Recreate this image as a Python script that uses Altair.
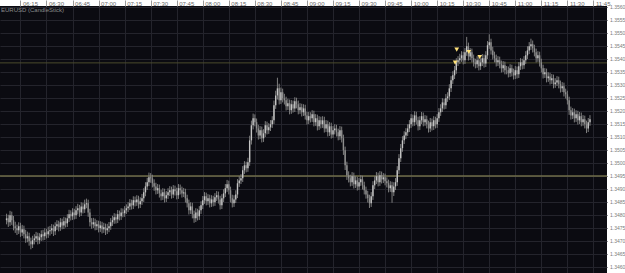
import altair as alt
import pandas as pd

title_text = "EURUSD (CandleStick)"
first_minute = 6 * 60 + 7   # first candle at 06:07, one candle per minute

closes = [
    1.34787, 1.34772, 1.34799, 1.34780, 1.34757,
    1.34749, 1.34741, 1.34757, 1.34733, 1.34745,
    1.34726, 1.34710, 1.34718, 1.34699, 1.34687, 1.34703,
    1.34710, 1.34718, 1.34703, 1.34714, 1.34726, 1.34718, 1.34733, 1.34726, 1.34737,
    1.34741, 1.34749, 1.34737, 1.34757, 1.34764, 1.34753, 1.34772, 1.34760, 1.34776,
    1.34768, 1.34787, 1.34803, 1.34795, 1.34810, 1.34799, 1.34818, 1.34826, 1.34810, 1.34833, 1.34822,
    1.34841, 1.34845, 1.34810, 1.34772,
    1.34764, 1.34772, 1.34757, 1.34764, 1.34749, 1.34760, 1.34745, 1.34753, 1.34741, 1.34749,
    1.34757, 1.34772, 1.34780, 1.34791, 1.34783, 1.34803, 1.34795, 1.34810, 1.34807, 1.34818, 1.34826,
    1.34833, 1.34845, 1.34837, 1.34857, 1.34849, 1.34860, 1.34841, 1.34853, 1.34864,
    1.34887, 1.34910, 1.34926, 1.34945, 1.34941,
    1.34922, 1.34910, 1.34895, 1.34903, 1.34883, 1.34872, 1.34887, 1.34864, 1.34876,
    1.34887, 1.34895, 1.34879, 1.34899, 1.34891, 1.34876, 1.34903, 1.34895, 1.34883, 1.34887,
    1.34864, 1.34845, 1.34818, 1.34833, 1.34803, 1.34787, 1.34810, 1.34795, 1.34818, 1.34837,
    1.34857, 1.34872, 1.34853, 1.34864, 1.34845, 1.34860, 1.34849,
    1.34868, 1.34876, 1.34860, 1.34837, 1.34864, 1.34883,
    1.34903, 1.34918, 1.34895, 1.34864, 1.34845, 1.34860, 1.34879,
    1.34922, 1.34933, 1.34941,
    1.34972, 1.34991, 1.34980, 1.35003,
    1.35087, 1.35145, 1.35172, 1.35157,
    1.35133, 1.35106, 1.35126, 1.35095, 1.35114, 1.35145, 1.35126,
    1.35137, 1.35149, 1.35164,
    1.35222, 1.35260, 1.35287, 1.35241, 1.35272, 1.35249,
    1.35241, 1.35218, 1.35230, 1.35203, 1.35226, 1.35210,
    1.35237, 1.35226, 1.35203, 1.35214,
    1.35195, 1.35210, 1.35183, 1.35164, 1.35180,
    1.35172, 1.35187, 1.35157, 1.35172, 1.35141, 1.35164,
    1.35149, 1.35164, 1.35133, 1.35149, 1.35118, 1.35141, 1.35110, 1.35126,
    1.35133, 1.35118, 1.35103, 1.35126, 1.35095,
    1.35049, 1.34991, 1.34953,
    1.34941, 1.34926, 1.34949, 1.34918, 1.34933, 1.34910, 1.34926, 1.34937, 1.34914,
    1.34895, 1.34879, 1.34864, 1.34845, 1.34872,
    1.34914, 1.34933, 1.34949, 1.34926, 1.34953, 1.34937, 1.34945, 1.34930,
    1.34922, 1.34903, 1.34914, 1.34887, 1.34910, 1.34926,
    1.34972, 1.35018, 1.35057, 1.35087, 1.35106, 1.35118, 1.35133,
    1.35149, 1.35172, 1.35157, 1.35183, 1.35164, 1.35141, 1.35164, 1.35180, 1.35157, 1.35168,
    1.35149, 1.35133, 1.35157, 1.35141, 1.35164, 1.35149, 1.35172,
    1.35195, 1.35210, 1.35233, 1.35222, 1.35249, 1.35256,
    1.35287, 1.35318, 1.35337, 1.35357,
    1.35387, 1.35395,
    1.35403, 1.35414, 1.35395, 1.35426, 1.35449, 1.35410,
    1.35426, 1.35403, 1.35387,
    1.35380, 1.35395, 1.35372, 1.35387, 1.35403, 1.35383,
    1.35414, 1.35453, 1.35464, 1.35433, 1.35414,
    1.35403, 1.35387, 1.35395,
    1.35380, 1.35364, 1.35376, 1.35357,
    1.35357, 1.35345, 1.35364, 1.35349, 1.35337, 1.35357, 1.35341,
    1.35372, 1.35387, 1.35376, 1.35395,
    1.35414, 1.35433, 1.35449, 1.35457, 1.35441, 1.35426,
    1.35403, 1.35414, 1.35387,
    1.35364, 1.35341, 1.35349, 1.35326,
    1.35333, 1.35318, 1.35326, 1.35303, 1.35310, 1.35318,
    1.35303, 1.35287, 1.35295, 1.35272, 1.35264,
    1.35241, 1.35203,
    1.35183, 1.35195, 1.35172, 1.35187, 1.35164, 1.35180, 1.35157, 1.35168,
    1.35149, 1.35133, 1.35157, 1.35168,
]

opens = [
    1.34780, 1.34787, 1.34772, 1.34799, 1.34780,
    1.34757, 1.34749, 1.34741, 1.34757, 1.34733,
    1.34745, 1.34726, 1.34710, 1.34718, 1.34699, 1.34687,
    1.34703, 1.34710, 1.34718, 1.34703, 1.34714, 1.34726, 1.34718, 1.34733, 1.34726,
    1.34737, 1.34741, 1.34749, 1.34737, 1.34757, 1.34764, 1.34753, 1.34772, 1.34760,
    1.34776, 1.34768, 1.34787, 1.34803, 1.34795, 1.34810, 1.34799, 1.34818, 1.34826, 1.34810, 1.34833,
    1.34822, 1.34841, 1.34845, 1.34810,
    1.34772, 1.34764, 1.34772, 1.34757, 1.34764, 1.34749, 1.34760, 1.34745, 1.34753, 1.34741,
    1.34749, 1.34757, 1.34772, 1.34780, 1.34791, 1.34783, 1.34803, 1.34795, 1.34810, 1.34807, 1.34818,
    1.34826, 1.34833, 1.34845, 1.34837, 1.34857, 1.34849, 1.34860, 1.34841, 1.34853,
    1.34864, 1.34887, 1.34910, 1.34926, 1.34945,
    1.34941, 1.34922, 1.34910, 1.34895, 1.34903, 1.34883, 1.34872, 1.34887, 1.34864,
    1.34876, 1.34887, 1.34895, 1.34879, 1.34899, 1.34891, 1.34876, 1.34903, 1.34895, 1.34883,
    1.34887, 1.34864, 1.34845, 1.34818, 1.34833, 1.34803, 1.34787, 1.34810, 1.34795, 1.34818,
    1.34837, 1.34857, 1.34872, 1.34853, 1.34864, 1.34845, 1.34860,
    1.34849, 1.34868, 1.34876, 1.34860, 1.34837, 1.34864,
    1.34883, 1.34903, 1.34918, 1.34895, 1.34864, 1.34845, 1.34860,
    1.34879, 1.34922, 1.34933,
    1.34941, 1.34972, 1.34991, 1.34980,
    1.35003, 1.35087, 1.35145, 1.35172,
    1.35157, 1.35133, 1.35106, 1.35126, 1.35095, 1.35114, 1.35145,
    1.35126, 1.35137, 1.35149,
    1.35164, 1.35222, 1.35260, 1.35287, 1.35241, 1.35272,
    1.35249, 1.35241, 1.35218, 1.35230, 1.35203, 1.35226,
    1.35210, 1.35237, 1.35226, 1.35203,
    1.35214, 1.35195, 1.35210, 1.35183, 1.35164,
    1.35180, 1.35172, 1.35187, 1.35157, 1.35172, 1.35141,
    1.35164, 1.35149, 1.35164, 1.35133, 1.35149, 1.35118, 1.35141, 1.35110,
    1.35126, 1.35133, 1.35118, 1.35103, 1.35126,
    1.35095, 1.35049, 1.34991,
    1.34953, 1.34941, 1.34926, 1.34949, 1.34918, 1.34933, 1.34910, 1.34926, 1.34937,
    1.34914, 1.34895, 1.34879, 1.34864, 1.34845,
    1.34872, 1.34914, 1.34933, 1.34949, 1.34926, 1.34953, 1.34937, 1.34945,
    1.34930, 1.34922, 1.34903, 1.34914, 1.34887, 1.34910,
    1.34926, 1.34972, 1.35018, 1.35057, 1.35087, 1.35106, 1.35118,
    1.35133, 1.35149, 1.35172, 1.35157, 1.35183, 1.35164, 1.35141, 1.35164, 1.35180, 1.35157,
    1.35168, 1.35149, 1.35133, 1.35157, 1.35141, 1.35164, 1.35149,
    1.35172, 1.35195, 1.35210, 1.35233, 1.35222, 1.35249,
    1.35256, 1.35287, 1.35318, 1.35337,
    1.35357, 1.35387,
    1.35395, 1.35403, 1.35414, 1.35395, 1.35426, 1.35449,
    1.35410, 1.35426, 1.35403,
    1.35387, 1.35380, 1.35395, 1.35372, 1.35387, 1.35403,
    1.35383, 1.35414, 1.35453, 1.35464, 1.35433,
    1.35414, 1.35403, 1.35387,
    1.35395, 1.35380, 1.35364, 1.35376,
    1.35357, 1.35357, 1.35345, 1.35364, 1.35349, 1.35337, 1.35357,
    1.35341, 1.35372, 1.35387, 1.35376,
    1.35395, 1.35414, 1.35433, 1.35449, 1.35457, 1.35441,
    1.35426, 1.35403, 1.35414,
    1.35387, 1.35364, 1.35341, 1.35349,
    1.35326, 1.35333, 1.35318, 1.35326, 1.35303, 1.35310,
    1.35318, 1.35303, 1.35287, 1.35295, 1.35272,
    1.35264, 1.35241,
    1.35203, 1.35183, 1.35195, 1.35172, 1.35187, 1.35164, 1.35180, 1.35157,
    1.35168, 1.35149, 1.35133, 1.35157,
]

highs = [
    1.34805, 1.34801, 1.34816, 1.34813, 1.34796,
    1.34774, 1.34763, 1.34772, 1.34770, 1.34762,
    1.34759, 1.34743, 1.34736, 1.34732, 1.34713, 1.34720,
    1.34726, 1.34735, 1.34732, 1.34730, 1.34741, 1.34743, 1.34749, 1.34747, 1.34755,
    1.34758, 1.34765, 1.34763, 1.34772, 1.34780, 1.34778, 1.34788, 1.34786, 1.34793,
    1.34790, 1.34803, 1.34820, 1.34818, 1.34826, 1.34824, 1.34834, 1.34843, 1.34839, 1.34849, 1.34847,
    1.34859, 1.34863, 1.34859, 1.34824,
    1.34788, 1.34789, 1.34786, 1.34780, 1.34778, 1.34776, 1.34774, 1.34770, 1.34767, 1.34766,
    1.34773, 1.34788, 1.34797, 1.34807, 1.34805, 1.34819, 1.34817, 1.34826, 1.34825, 1.34834, 1.34841,
    1.34849, 1.34861, 1.34859, 1.34872, 1.34871, 1.34876, 1.34874, 1.34868, 1.34881,
    1.34903, 1.34926, 1.34943, 1.34963, 1.34961,
    1.34955, 1.34937, 1.34924, 1.34919, 1.34917, 1.34897, 1.34903, 1.34901, 1.34892,
    1.34903, 1.34911, 1.34909, 1.34915, 1.34913, 1.34905, 1.34919, 1.34917, 1.34909, 1.34904,
    1.34901, 1.34878, 1.34859, 1.34849, 1.34847, 1.34817, 1.34826, 1.34824, 1.34834, 1.34853,
    1.34873, 1.34888, 1.34886, 1.34880, 1.34878, 1.34876, 1.34874,
    1.34884, 1.34892, 1.34890, 1.34874, 1.34880, 1.34899,
    1.34919, 1.34935, 1.34932, 1.34909, 1.34878, 1.34876, 1.34895,
    1.34938, 1.34949, 1.34957,
    1.34988, 1.35007, 1.35005, 1.35020,
    1.35105, 1.35163, 1.35190, 1.35187,
    1.35171, 1.35147, 1.35142, 1.35140, 1.35130, 1.35161, 1.35159,
    1.35153, 1.35165, 1.35180,
    1.35240, 1.35278, 1.35328, 1.35305, 1.35290, 1.35286,
    1.35266, 1.35255, 1.35247, 1.35244, 1.35242, 1.35240,
    1.35253, 1.35251, 1.35240, 1.35230,
    1.35228, 1.35226, 1.35224, 1.35197, 1.35196,
    1.35195, 1.35203, 1.35201, 1.35188, 1.35186, 1.35180,
    1.35178, 1.35180, 1.35178, 1.35165, 1.35163, 1.35157, 1.35155, 1.35142,
    1.35149, 1.35147, 1.35132, 1.35142, 1.35140,
    1.35109, 1.35063, 1.35005,
    1.34968, 1.34955, 1.34965, 1.34963, 1.34949, 1.34947, 1.34942, 1.34953, 1.34951,
    1.34928, 1.34909, 1.34893, 1.34878, 1.34888,
    1.34930, 1.34949, 1.34965, 1.34963, 1.34969, 1.34967, 1.34961, 1.34959,
    1.34945, 1.34936, 1.34930, 1.34928, 1.34926, 1.34942,
    1.34988, 1.35034, 1.35073, 1.35103, 1.35122, 1.35134, 1.35149,
    1.35165, 1.35188, 1.35186, 1.35199, 1.35197, 1.35178, 1.35180, 1.35196, 1.35194, 1.35184,
    1.35182, 1.35163, 1.35173, 1.35171, 1.35180, 1.35178, 1.35188,
    1.35211, 1.35226, 1.35249, 1.35247, 1.35265, 1.35272,
    1.35303, 1.35334, 1.35353, 1.35373,
    1.35403, 1.35411,
    1.35420, 1.35430, 1.35428, 1.35442, 1.35485, 1.35463,
    1.35442, 1.35440, 1.35417,
    1.35401, 1.35411, 1.35409, 1.35403, 1.35419, 1.35417,
    1.35430, 1.35469, 1.35495, 1.35478, 1.35447,
    1.35428, 1.35417, 1.35411,
    1.35409, 1.35394, 1.35392, 1.35390,
    1.35373, 1.35371, 1.35380, 1.35378, 1.35363, 1.35373, 1.35371,
    1.35388, 1.35403, 1.35401, 1.35411,
    1.35430, 1.35449, 1.35465, 1.35478, 1.35471, 1.35455,
    1.35440, 1.35430, 1.35428,
    1.35401, 1.35378, 1.35365, 1.35363,
    1.35349, 1.35347, 1.35342, 1.35340, 1.35326, 1.35334,
    1.35332, 1.35317, 1.35311, 1.35309, 1.35286,
    1.35278, 1.35255,
    1.35217, 1.35211, 1.35209, 1.35203, 1.35201, 1.35196, 1.35194, 1.35184,
    1.35182, 1.35163, 1.35173, 1.35184,
]

lows = [
    1.34764, 1.34754, 1.34758, 1.34762, 1.34741,
    1.34731, 1.34723, 1.34727, 1.34716, 1.34719,
    1.34710, 1.34693, 1.34695, 1.34682, 1.34668, 1.34673,
    1.34687, 1.34696, 1.34687, 1.34689, 1.34700, 1.34702, 1.34704, 1.34710, 1.34712,
    1.34721, 1.34727, 1.34719, 1.34723, 1.34742, 1.34737, 1.34739, 1.34745, 1.34746,
    1.34752, 1.34754, 1.34773, 1.34779, 1.34781, 1.34783, 1.34785, 1.34802, 1.34793, 1.34796, 1.34806,
    1.34808, 1.34826, 1.34793, 1.34756,
    1.34747, 1.34750, 1.34741, 1.34742, 1.34733, 1.34735, 1.34729, 1.34731, 1.34723, 1.34727,
    1.34734, 1.34743, 1.34758, 1.34766, 1.34767, 1.34769, 1.34779, 1.34781, 1.34791, 1.34793, 1.34804,
    1.34811, 1.34819, 1.34821, 1.34823, 1.34833, 1.34835, 1.34825, 1.34827, 1.34839,
    1.34850, 1.34872, 1.34896, 1.34911, 1.34924,
    1.34906, 1.34893, 1.34879, 1.34881, 1.34867, 1.34856, 1.34858, 1.34848, 1.34850,
    1.34862, 1.34873, 1.34863, 1.34865, 1.34875, 1.34860, 1.34862, 1.34879, 1.34867, 1.34869,
    1.34848, 1.34829, 1.34802, 1.34804, 1.34787, 1.34770, 1.34773, 1.34779, 1.34781, 1.34804,
    1.34823, 1.34843, 1.34837, 1.34839, 1.34829, 1.34831, 1.34833,
    1.34835, 1.34854, 1.34844, 1.34821, 1.34823, 1.34850,
    1.34869, 1.34889, 1.34879, 1.34848, 1.34829, 1.34831, 1.34846,
    1.34865, 1.34908, 1.34919,
    1.34927, 1.34958, 1.34964, 1.34966,
    1.34989, 1.35071, 1.35129, 1.35141,
    1.35117, 1.35090, 1.35092, 1.35079, 1.35081, 1.35100, 1.35110,
    1.35112, 1.35123, 1.35135,
    1.35150, 1.35208, 1.35244, 1.35225, 1.35227, 1.35233,
    1.35225, 1.35202, 1.35204, 1.35187, 1.35189, 1.35194,
    1.35196, 1.35210, 1.35187, 1.35189,
    1.35179, 1.35181, 1.35167, 1.35148, 1.35150,
    1.35156, 1.35158, 1.35141, 1.35143, 1.35125, 1.35127,
    1.35133, 1.35135, 1.35117, 1.35119, 1.35102, 1.35104, 1.35094, 1.35096,
    1.35110, 1.35102, 1.35087, 1.35089, 1.35079,
    1.35031, 1.34973, 1.34935,
    1.34925, 1.34910, 1.34912, 1.34902, 1.34904, 1.34894, 1.34896, 1.34912, 1.34898,
    1.34879, 1.34863, 1.34848, 1.34827, 1.34831,
    1.34858, 1.34900, 1.34919, 1.34910, 1.34912, 1.34921, 1.34923, 1.34914,
    1.34906, 1.34887, 1.34889, 1.34847, 1.34873, 1.34896,
    1.34912, 1.34958, 1.35004, 1.35043, 1.35073, 1.35092, 1.35104,
    1.35119, 1.35135, 1.35141, 1.35143, 1.35148, 1.35125, 1.35127, 1.35150, 1.35141, 1.35143,
    1.35133, 1.35117, 1.35119, 1.35125, 1.35127, 1.35133, 1.35135,
    1.35158, 1.35181, 1.35196, 1.35206, 1.35208, 1.35235,
    1.35242, 1.35273, 1.35304, 1.35323,
    1.35343, 1.35373,
    1.35381, 1.35389, 1.35379, 1.35381, 1.35412, 1.35394,
    1.35396, 1.35387, 1.35371,
    1.35364, 1.35366, 1.35356, 1.35358, 1.35373, 1.35367,
    1.35369, 1.35400, 1.35439, 1.35417, 1.35398,
    1.35387, 1.35371, 1.35373,
    1.35364, 1.35348, 1.35350, 1.35341,
    1.35341, 1.35329, 1.35331, 1.35333, 1.35321, 1.35323, 1.35325,
    1.35327, 1.35358, 1.35360, 1.35362,
    1.35381, 1.35400, 1.35419, 1.35435, 1.35425, 1.35410,
    1.35387, 1.35389, 1.35371,
    1.35348, 1.35325, 1.35327, 1.35310,
    1.35312, 1.35302, 1.35304, 1.35287, 1.35289, 1.35296,
    1.35287, 1.35271, 1.35273, 1.35256, 1.35248,
    1.35225, 1.35185,
    1.35167, 1.35169, 1.35156, 1.35158, 1.35148, 1.35150, 1.35141, 1.35143,
    1.35133, 1.35115, 1.35119, 1.35143,
]

# trade markers: minute of day (10:26:15, 10:25:20, 10:33:15, 10:39:30) and price
marker_minutes = [626.25, 625.33, 633.25, 639.5]
marker_prices = [1.35436, 1.35386, 1.35427, 1.35408]

level_prices = [1.35385, 1.34950]
level_colors = ["#4a4a2c", "#6f6d48"]
level_widths = [1, 1.6]

x_ticks = [375, 390, 405, 420, 435, 450, 465, 480, 495, 510, 525, 540, 555, 570, 585, 600,
           615, 630, 645, 660, 675, 690, 705]
y_ticks = [1.3460, 1.3465, 1.3470, 1.3475, 1.3480, 1.3485, 1.3490, 1.3495, 1.3500,
           1.3505, 1.3510, 1.3515, 1.3520, 1.3525, 1.3530, 1.3535, 1.3540, 1.3545,
           1.3550, 1.3555, 1.3560]

candles = pd.DataFrame({
    "m": [first_minute + i for i in range(len(closes))],
    "open": opens, "high": highs, "low": lows, "close": closes,
})
candles["dir"] = ["up" if c >= o else "down" for o, c in zip(opens, closes)]

markers = pd.DataFrame({"m": marker_minutes, "price": marker_prices})
levels = pd.DataFrame({"price": level_prices, "color": level_colors, "w": level_widths})
title_df = pd.DataFrame({"label": [title_text]})

x_scale = alt.Scale(domain=[366.1, 709.92], nice=False, zero=False)
y_scale = alt.Scale(domain=[1.345769, 1.356038], nice=False, zero=False)

x_axis = alt.Axis(orient="top", values=x_ticks,
                  labelExpr="format(floor(datum.value / 60), '02d') + ':' + format(datum.value % 60, '02d')",
                  labelFontSize=6, labelColor="#6a6a6a", labelAlign="left", labelBaseline="bottom",
                  labelPadding=-6, labelOffset=2, tickSize=6, tickColor="#9a9a9a", domain=False,
                  grid=True, gridColor="#24242c", labelFlush=False, labelOverlap=False, title=None)
y_axis = alt.Axis(orient="right", values=y_ticks, format=".4f", labelFontSize=5,
                  labelColor="#7a7a7a", tickSize=0, labelPadding=2.5, domain=False, grid=True,
                  gridColor="#24242c", labelFlush=False, labelOverlap=False, title=None)

X = alt.X("m:Q", scale=x_scale, axis=x_axis)

level_layer = alt.Chart(levels).mark_rule().encode(
    y=alt.Y("price:Q", scale=y_scale, axis=y_axis),
    color=alt.Color("color:N", scale=None),
    strokeWidth=alt.StrokeWidth("w:Q", scale=None),
)

wicks = alt.Chart(candles).mark_rule(strokeWidth=1, color="#7e7e7e", clip=True).encode(
    x=X,
    y=alt.Y("low:Q", scale=y_scale, axis=y_axis),
    y2="high:Q",
)

bodies = alt.Chart(candles).mark_bar(size=1.4, clip=True).encode(
    x=X,
    y=alt.Y("open:Q", scale=y_scale, axis=y_axis),
    y2="close:Q",
    color=alt.Color("dir:N", scale=alt.Scale(domain=["up", "down"], range=["#c4c4c4", "#8e8e8e"]), legend=None),
)

marker_layer = alt.Chart(markers).mark_point(shape="triangle-down", filled=True, size=22,
                                              color="#ffe27a", opacity=1).encode(
    x=X,
    y=alt.Y("price:Q", scale=y_scale, axis=y_axis),
)

title_layer = alt.Chart(title_df).mark_text(align="left", baseline="top", fontSize=6,
                                            color="#8a8a8a", font="Liberation Sans").encode(
    x=alt.value(1), y=alt.value(1), text="label:N",
)

chart = alt.layer(level_layer, wicks, bodies, marker_layer, title_layer).properties(
    width=607, height=267,
    padding={"left": 0, "top": 6, "right": 18, "bottom": 0},
    autosize=alt.AutoSizeParams(type="none"),
    background="white",
).configure_view(fill="#0b0b11", strokeWidth=0).configure_axis(
    labelFont="Liberation Sans"
)

chart.save("out.html", embed_options={"renderer": "svg", "actions": False})
